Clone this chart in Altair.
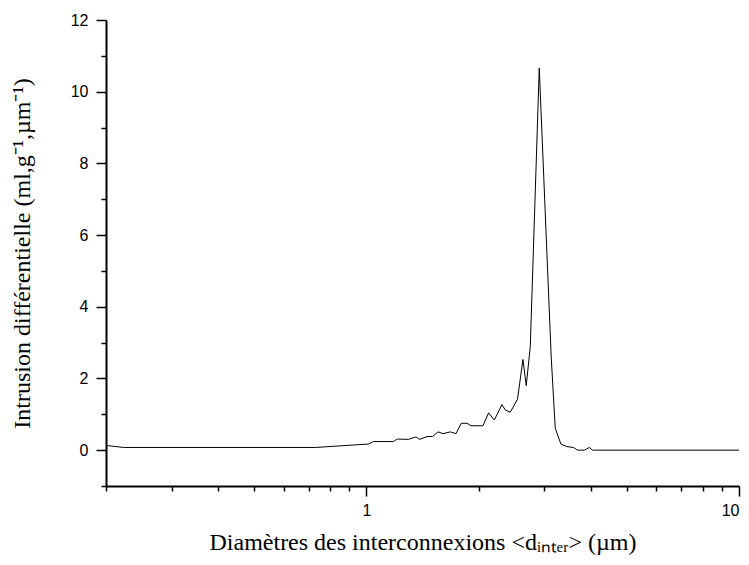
import altair as alt
import pandas as pd

# Data
diam = [0.2, 0.223, 0.730, 1.012, 1.044, 1.181, 1.211, 1.296, 1.359, 1.390,
        1.454, 1.505, 1.557, 1.606, 1.680, 1.740, 1.797, 1.862, 1.909, 2.055,
        2.128, 2.204, 2.311, 2.359, 2.433, 2.544, 2.631, 2.685, 2.753, 2.910,
        3.133, 3.212, 3.327, 3.45, 3.595, 3.686, 3.842, 3.969, 4.044, 10.0]
intr = [0.13, 0.075, 0.075, 0.17, 0.24, 0.24, 0.31, 0.30, 0.37, 0.30,
        0.38, 0.38, 0.51, 0.46, 0.51, 0.46, 0.75, 0.75, 0.68, 0.68,
        1.04, 0.84, 1.27, 1.12, 1.06, 1.42, 2.53, 1.80, 2.89, 10.66,
        2.6, 0.61, 0.17, 0.10, 0.075, 0.0, 0.0, 0.075, 0.0, 0.0]

x_major = [1, 10]
x_minor = [0.2, 0.3, 0.4, 0.5, 0.6, 0.7, 0.8, 0.9, 2, 3, 4, 5, 6, 7, 8, 9]
y_major = [0, 2, 4, 6, 8, 10, 12]
y_minor = [-1, 1, 3, 5, 7, 9, 11]

x_title = "Diamètres des interconnexions <dᵢₙₜₑᵣ> (µm)"
y_title = "Intrusion différentielle (ml,g⁻¹,µm⁻¹)"

df = pd.DataFrame({"d": diam, "v": intr})

xs = alt.Scale(type="log", domain=[0.2, 10], nice=False)
ys = alt.Scale(domain=[-1, 12], nice=False, zero=False)

line = alt.Chart(df).mark_line(color="black", strokeWidth=1).encode(
    x=alt.X("d:Q", scale=xs,
            axis=alt.Axis(values=x_major, format="~g", tickSize=10, orient="bottom",
                          title=x_title, labelPadding=6, titlePadding=12)),
    y=alt.Y("v:Q", scale=ys,
            axis=alt.Axis(values=y_major, format="d", tickSize=10, orient="left",
                          title=y_title, labelPadding=8, titlePadding=36)),
)

minor = alt.Chart(df).mark_line(opacity=0).encode(
    x=alt.X("d:Q", scale=xs,
            axis=alt.Axis(values=x_minor, labels=False, tickSize=5, domain=False,
                          orient="bottom", title=None)),
    y=alt.Y("v:Q", scale=ys,
            axis=alt.Axis(values=y_minor, labels=False, tickSize=5, domain=False,
                          orient="left", title=None)),
)

chart = (
    alt.layer(line, minor)
    .resolve_axis(x="independent", y="independent")
    .properties(
        width=633, height=466,
        autosize=alt.AutoSizeParams(type="none"),
        padding={"left": 98, "top": 12, "right": 2, "bottom": 71},
    )
    .configure_view(stroke=None)
    .configure_axis(
        grid=False,
        domainColor="black", domainWidth=2,
        tickColor="black", tickWidth=1.5,
        labelFont="Liberation Sans", labelFontSize=16, labelColor="black",
        titleFont="Liberation Serif", titleFontSize=24, titleFontWeight="normal",
        titleColor="black",
    )
)

chart.save("out.html", embed_options={"renderer": "svg", "actions": False})
